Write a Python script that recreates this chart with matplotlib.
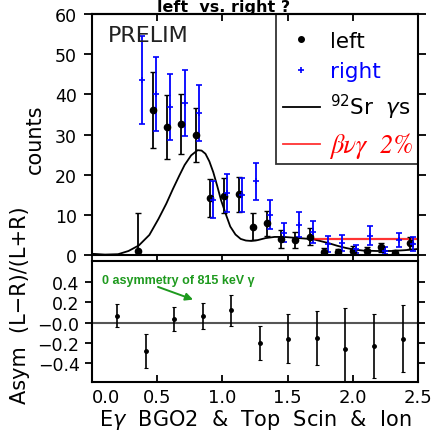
import matplotlib.pyplot as plt
from matplotlib.lines import Line2D
from matplotlib.patches import Rectangle

# left detector counts
left_x = [0.355, 0.465, 0.578, 0.685, 0.795, 0.905, 1.015, 1.125, 1.232, 1.34,
          1.449, 1.559, 1.672, 1.779, 1.889, 1.999, 2.107, 2.216, 2.326, 2.439]
left_y = [1.0, 36.1, 31.8, 32.6, 29.9, 14.2, 14.8, 15.1, 7.05, 7.9,
          4.0, 3.7, 4.6, 0.8, 0.8, 1.1, 1.1, 1.9, 0.6, 3.0]
left_err = [9.5, 9.5, 8.0, 7.5, 6.7, 4.8, 4.3, 4.4, 3.3, 3.1,
            2.2, 2.0, 2.1, 0.9, 0.8, 1.2, 0.8, 1.2, 0.6, 1.5]

# right detector counts
right_x = [0.381, 0.491, 0.600, 0.711, 0.821, 0.925, 1.035, 1.148, 1.258, 1.365,
           1.475, 1.585, 1.697, 1.807, 1.917, 2.025, 2.134, 2.245, 2.354, 2.464]
right_y = [43.6, 40.1, 36.9, 37.8, 35.3, 13.8, 15.4, 14.9, 18.3, 10.0,
           5.6, 7.5, 5.8, 2.7, 2.9, 1.5, 4.8, 1.1, 3.8, 2.7]
right_err = [11.0, 9.3, 8.2, 8.2, 7.0, 4.6, 4.7, 4.3, 4.6, 3.6,
             2.4, 3.1, 2.7, 2.0, 2.0, 1.1, 2.3, 0.9, 1.8, 1.7]

# 92Sr gamma spectrum curve
sr_x = [0.00, 0.10, 0.20, 0.28, 0.36, 0.44, 0.51, 0.57, 0.62, 0.67, 0.71, 0.76,
        0.81, 0.84, 0.87, 0.90, 0.93, 0.96, 0.99, 1.03, 1.06, 1.10, 1.14, 1.18,
        1.22, 1.27, 1.33, 1.40, 1.47, 1.55, 1.63, 1.70, 1.76, 1.82, 1.88, 1.94,
        2.00, 2.08, 2.18, 2.30, 2.40, 2.50]
sr_y = [0.3, 0.1, 0.2, 1.0, 2.4, 5.0, 9.0, 12.8, 16.4, 19.8, 22.4, 24.8,
        26.1, 26.0, 25.2, 23.3, 20.6, 17.2, 13.6, 9.8, 7.1, 5.1, 4.0, 3.6,
        3.5, 3.7, 4.2, 4.5, 4.5, 4.3, 4.1, 3.9, 3.4, 2.9, 2.3, 1.8,
        1.4, 1.1, 1.0, 1.0, 1.2, 1.5]

# beta-nu-gamma 2% level
bvg_x = [1.67, 2.5]
bvg_y = [4.05, 4.05]

# asymmetry (L-R)/(L+R)
asym_x = [0.194, 0.412, 0.631, 0.849, 1.066, 1.288, 1.506, 1.723, 1.943, 2.163, 2.382]
asym_y = [0.07, -0.28, 0.037, 0.063, 0.12, -0.205, -0.16, -0.152, -0.26, -0.234, -0.16]
asym_err = [0.11, 0.17, 0.12, 0.13, 0.15, 0.17, 0.24, 0.265, 0.40, 0.32, 0.33]

green = '#1e9a1e'

plt.rcParams['font.family'] = 'DejaVu Sans'
fig = plt.figure(figsize=(4.35, 4.35), dpi=100)
ax1 = fig.add_axes([0.2115, 0.4115, 0.7495, 0.554])
ax2 = fig.add_axes([0.2115, 0.1195, 0.7495, 0.278])

# top panel
ax1.plot(sr_x, sr_y, color='black', lw=1.3)
ax1.plot(bvg_x, bvg_y, color='red', lw=1.6, alpha=0.8)
ax1.errorbar(left_x, left_y, yerr=left_err, fmt='o', color='black', ms=4.5,
             elinewidth=1.3, capsize=2.5, capthick=1.0)
ax1.errorbar(right_x, right_y, yerr=right_err, fmt='+', color='blue', ms=4,
             mew=1.2, elinewidth=1.3, capsize=2.5, capthick=1.0)
ax1.set_xlim(0, 2.5)
ax1.set_ylim(0, 60)
ax1.set_yticks([0, 10, 20, 30, 40, 50, 60])
ax1.set_xticks([0, 0.5, 1.0, 1.5, 2.0, 2.5])
ax1.tick_params(axis='x', direction='out', length=6, width=1.3, labelbottom=False)
ax1.tick_params(axis='y', direction='out', length=6, width=1.3, right=True,
                labelsize=12.5, pad=5)
top = ax1.secondary_xaxis('top')
top.set_xticks([0, 0.5, 1.0, 1.5, 2.0, 2.5])
top.tick_params(direction='in', length=5, width=1.3, labeltop=False)
top.spines['top'].set_linewidth(1.5)
for s in ax1.spines.values():
    s.set_linewidth(1.5)
ax1.text(0.048, 0.955, 'PRELIM', transform=ax1.transAxes, fontsize=16,
         va='top', ha='left', color='#222222')

# legend box
ax1.add_patch(Rectangle((0.564, 0.378), 0.436, 0.622, transform=ax1.transAxes,
                        fill=False, edgecolor='#333333', lw=1.3, clip_on=False))
handles = [Line2D([], [], marker='o', color='black', ls='none', ms=4),
           Line2D([], [], marker='+', color='blue', ls='none', ms=4, mew=1.2),
           Line2D([], [], color='black', lw=1.3),
           Line2D([], [], color='red', lw=1.3, alpha=0.8)]
labels = ['left', 'right', r'$^{92}$Sr  $\gamma$s', 'βνγ  2%']
leg = ax1.legend(handles, labels, loc='upper left', bbox_to_anchor=(0.545, 0.985),
                 frameon=False, fontsize=15.5, handlelength=1.75, handletextpad=0.45,
                 labelspacing=0.5, borderaxespad=0.2)
leg.get_texts()[1].set_color('blue')
leg.get_texts()[3].set_color('red')
leg.get_texts()[3].set_fontfamily('STIXGeneral')
leg.get_texts()[3].set_fontstyle('italic')
leg.get_texts()[3].set_fontsize(19)
for t in leg.get_texts():
    t.set_clip_on(False)

# bottom panel
ax2.axhline(0, color='#555555', lw=1.5)
ax2.errorbar(asym_x, asym_y, yerr=asym_err, fmt='o', color='black', ms=2.5,
             elinewidth=1.2, capsize=1.5, capthick=0.8)
ax2.set_xlim(0, 2.5)
ax2.set_ylim(-0.59, 0.61)
ax2.set_yticks([-0.4, -0.2, 0.0, 0.2, 0.4])
ax2.set_yticklabels(['\u22120.4', '\u22120.2', '\u22120.0', '0.2', '0.4'])
ax2.set_xticks([0, 0.5, 1.0, 1.5, 2.0, 2.5])
ax2.set_xticklabels(['0.0', '0.5', '1.0', '1.5', '2.0', '2.5'])
ax2.get_xticklabels()[0].set_horizontalalignment('left')
ax2.tick_params(axis='x', direction='in', length=5, width=1.3, labelsize=13, pad=4)
ax2.tick_params(axis='y', direction='out', length=5, width=1.3, right=True,
                labelsize=12.5, pad=4)
for s in ax2.spines.values():
    s.set_linewidth(1.5)
ax2.text(0.077, 0.423, '0 asymmetry of 815 keV γ', color=green, fontsize=9,
         fontweight='bold', va='center', ha='left',
         family=['Liberation Sans Narrow', 'Liberation Sans', 'DejaVu Sans'])
ax2.annotate('', xy=(0.775, 0.228), xytext=(0.506, 0.354),
             arrowprops=dict(arrowstyle='-|>', color=green, lw=1.4,
                             shrinkA=0, shrinkB=0, mutation_scale=11))
ax2.set_xlabel('E$\\gamma$  BGO2  &  Top  Scin  &  Ion', fontsize=15, labelpad=1)

fig.text(35 / 435, 1 - 139 / 435, 'counts', rotation=90, fontsize=15,
         ha='center', va='center')
fig.text(20 / 435, 1 - 305 / 435, 'Asym  (L\u2212R)/(L+R)', rotation=90, fontsize=15,
         ha='center', va='center')
fig.text(0.515, 1 - 12 / 435, 'left  vs. right ?', fontsize=11.5, fontweight='bold',
         ha='center', va='baseline')

fig.savefig('out.png', dpi=100)
